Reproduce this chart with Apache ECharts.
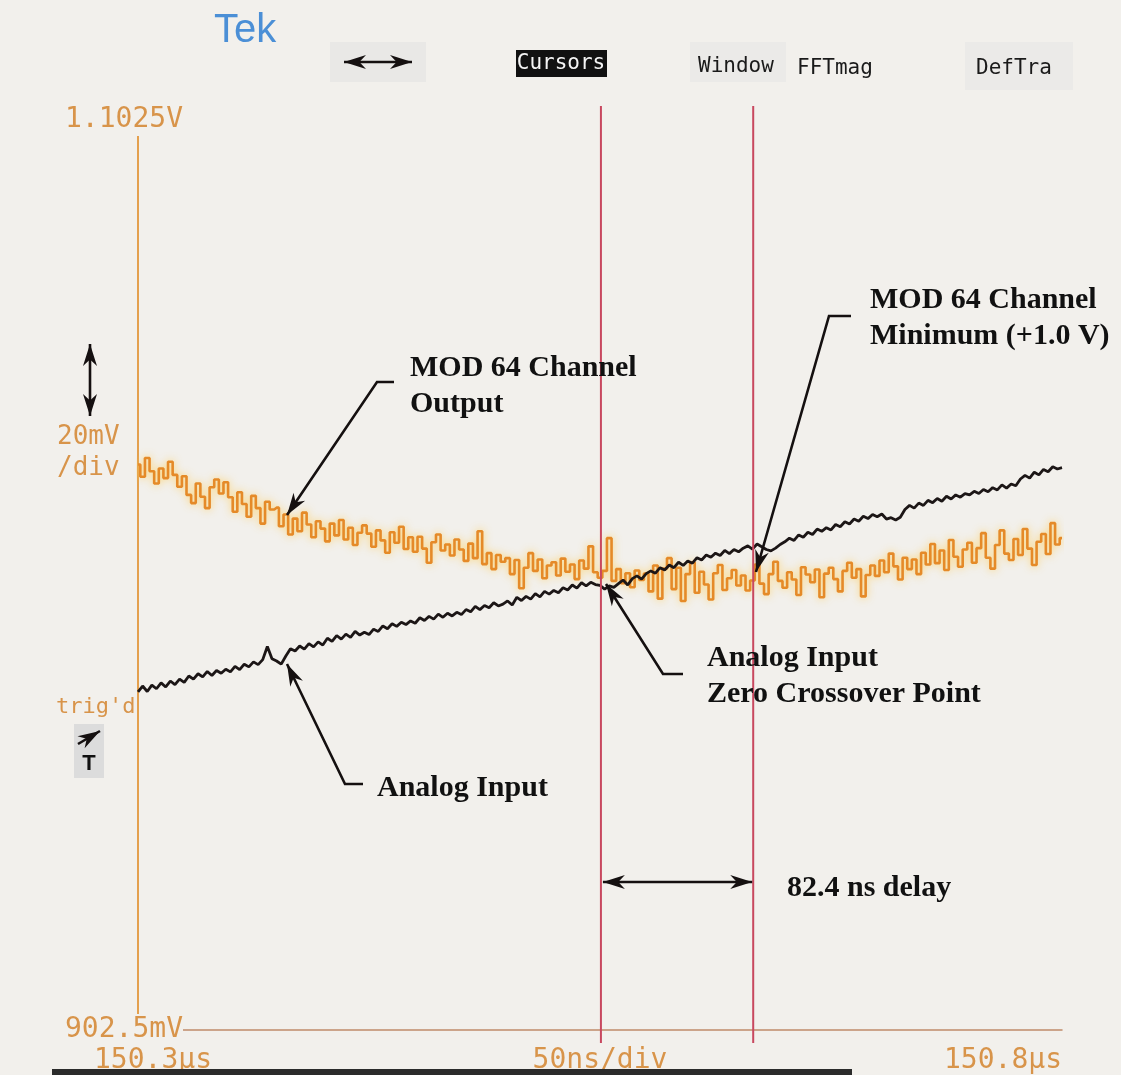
<!DOCTYPE html>
<html>
<head>
<meta charset="utf-8">
<script src="https://cdn.jsdelivr.net/npm/echarts@6/dist/echarts.min.js"></script>
<style>
html,body{margin:0;padding:0;background:#f2f0ec;}
#chart{width:1121px;height:1075px;}
</style>
</head>
<body>
<div id="chart"></div>
<script>
// ---- data ----
const sampleStepNs = 2.5;            // 201 samples across 500 ns
const channelOutput_mV = [
1026.8,1024.1,1028.2,1025.3,1022.6,1025.9,1023.8,1027.4,1024.5,1021.9,
1024.2,1020.1,1018.3,1022.6,1019.7,1017.2,1021.8,1023.5,1020.4,1022.9,
1019.6,1016.4,1020.7,1018.1,1015.3,1019.9,1017.2,1013.8,1018.6,1016.9,
1017.3,1013.2,1015.8,1011.4,1014.9,1012.1,1016.2,1013.6,1010.8,1014.3,
1012.7,1009.9,1013.8,1011.2,1014.6,1010.3,1012.9,1009.1,1011.8,1013.4,
1011.6,1008.7,1012.3,1010.1,1007.4,1011.9,1009.6,1013.1,1008.2,1010.8,
1007.6,1010.9,1008.3,1005.2,1009.7,1011.4,1007.9,1009.2,1006.8,1010.3,
1008.1,1005.6,1009.4,1006.2,1012.1,1004.9,1007.3,1003.8,1006.9,1005.4,
1006.2,1002.7,1005.8,999.6,1004.1,1007.3,1003.4,1005.9,1001.8,1004.6,
1005.3,1002.4,1006.1,1003.2,1004.8,1001.6,1005.7,1003.9,1008.8,1003.1,
1001.9,1003.4,1010.6,1001.2,1003.8,1000.7,1002.9,999.8,1003.5,1001.4,
1002.8,998.9,1004.6,997.3,1003.9,1006.2,999.4,1004.1,996.8,1002.7,
1005.3,998.6,1003.2,1000.4,997.1,1002.9,1004.7,999.2,1001.8,1003.6,
1000.2,1002.4,999.1,1001.3,1004.8,1000.6,998.3,1002.7,1005.4,1001.2,
999.7,1003.1,1001.5,998.1,1004.2,1002.6,1000.9,1003.7,997.6,1002.8,
1004.1,1001.6,998.9,1003.4,1005.2,1001.9,1003.8,997.8,1002.5,1004.6,
1002.3,1005.7,1003.1,1007.2,1004.4,1001.5,1006.3,1003.8,1005.9,1002.7,
1007.4,1004.8,1009.3,1005.1,1007.9,1003.6,1010.2,1006.5,1004.3,1008.1,
1009.6,1005.2,1008.4,1011.7,1006.3,1003.9,1009.1,1012.3,1007.2,1005.8,
1010.4,1006.9,1012.6,1008.3,1004.7,1009.8,1011.5,1007.1,1013.9,1009.2,1010.6
];
const analogInput_mV = [
976.8,978.1,976.9,978.3,977.5,978.8,977.9,979.2,978.4,979.6,
978.9,980.3,979.6,980.8,980.1,981.3,980.4,981.5,980.9,981.8,
981.2,982.4,981.7,982.9,982.3,983.4,982.8,983.9,986.8,984.1,
983.6,982.9,984.7,986.3,985.8,986.9,986.2,987.4,986.7,987.8,
987.1,988.6,987.9,989.2,988.4,989.5,988.8,990.1,989.3,989.9,
989.4,990.6,990.1,991.3,990.7,991.8,991.2,992.1,991.6,992.4,
991.9,993.1,992.5,993.4,992.8,993.9,993.2,994.1,993.5,994.3,
993.8,994.9,994.4,995.6,994.9,995.8,995.3,996.4,995.7,996.1,
996.8,995.9,997.6,996.9,997.8,997.2,998.4,997.7,998.9,998.3,
999.1,998.6,999.7,999.2,1000.3,999.6,1000.8,1000.1,1000.9,1000.4,
1000.2,999.4,1000.1,999.8,1000.6,1001.4,1000.3,1001.7,1002.3,1001.6,
1002.8,1003.4,1002.9,1004.1,1003.6,1004.7,1004.1,1005.3,1004.6,1005.6,
1005.1,1006.3,1005.8,1006.9,1006.4,1007.3,1006.8,1007.9,1007.2,1008.1,
1007.6,1008.4,1008.9,1008.2,1009.3,1008.7,1008.1,1007.8,1008.4,1009.2,
1009.8,1010.6,1010.1,1011.3,1010.8,1011.9,1011.4,1012.6,1012.1,1012.9,
1012.4,1013.6,1013.1,1014.2,1013.7,1014.8,1014.3,1015.4,1014.9,1015.8,
1015.3,1015.9,1014.8,1015.1,1014.6,1015.2,1016.9,1017.8,1017.2,1018.3,
1017.8,1018.9,1018.4,1019.3,1018.7,1019.8,1019.2,1020.1,1019.6,1020.4,
1020.1,1020.9,1020.4,1021.3,1020.8,1021.7,1021.2,1022.3,1021.6,1022.5,
1022.1,1023.6,1024.4,1023.8,1025.1,1024.5,1025.7,1025.2,1026.3,1025.8,1026.1
];
const cursorTimes_ns = [250.5, 332.9];
const xTickValues = [0, 250, 500];
const xTickLabels = ['150.3\u00b5s', '50ns/div', '150.8\u00b5s'];
const yTickValues = [902.5, 1102.5];
const yTickLabels = ['902.5mV', '1.1025V'];
const menuLabels = ['Window', 'FFTmag', 'DefTra'];

// ---- build ----
const outPts = channelOutput_mV.map((v, i) => [i * sampleStepNs, v]);
const inPts = analogInput_mV.map((v, i) => [i * sampleStepNs, v]);

const SCOPE = '#d8944a';
const MONO = '"DejaVu Sans Mono", "Liberation Mono", monospace';
const SERIF = '"Liberation Serif", "DejaVu Serif", serif';

const chart = echarts.init(document.getElementById('chart'), null, {renderer: 'canvas'});
chart.setOption({
  backgroundColor: '#f2f0ec',
  animation: false,
  grid: {left: 138, right: 59, top: 120, bottom: 45},
  xAxis: {
    type: 'value', min: 0, max: 500, interval: 250,
    axisLine: {show: true, lineStyle: {color: '#c08a6a', width: 1.5}},
    axisTick: {show: false},
    splitLine: {show: false},
    axisLabel: {
      show: true, margin: 17, color: SCOPE, fontFamily: MONO, fontSize: 28,
      alignMaxLabel: 'right',
      formatter: v => {
        const k = xTickValues.indexOf(v);
        if (k === 0) return '{a|' + xTickLabels[0] + '}';
        return k >= 0 ? xTickLabels[k] : '';
      },
      rich: {a: {color: SCOPE, fontFamily: MONO, fontSize: 28, padding: [0, 0, 0, 30]}}
    }
  },
  yAxis: {
    type: 'value', min: 902.5, max: 1102.5,
    axisLine: {show: true, lineStyle: {color: '#e4a04e', width: 2}},
    axisTick: {show: false},
    splitLine: {show: false},
    axisLabel: {
      show: true, customValues: yTickValues, margin: -45, align: 'right',
      color: SCOPE, fontFamily: MONO, fontSize: 28,
      backgroundColor: '#f2f0ec', padding: [2, 0, 2, 0],
      formatter: v => {
        const k = yTickValues.indexOf(v);
        return k >= 0 ? yTickLabels[k] : '';
      }
    }
  },
  series: [
    {
      name: 'MOD 64 Channel Output', type: 'line', data: outPts, step: 'middle',
      showSymbol: false, clip: false,
      lineStyle: {color: '#e58a28', width: 2.6, shadowColor: 'rgba(255,200,70,0.8)', shadowBlur: 8}
    },
    {
      name: 'Analog Input', type: 'line', data: inPts,
      showSymbol: false, clip: false,
      lineStyle: {color: '#1c1616', width: 2.8}
    }
  ]
});

// ---- annotations ----
function head(tip, from, L, W) {
  const dx = tip[0] - from[0], dy = tip[1] - from[1];
  const d = Math.hypot(dx, dy), ux = dx / d, uy = dy / d, nx = -uy, ny = ux;
  const bx = tip[0] - ux * L, by = tip[1] - uy * L;
  return {
    type: 'polygon', z: 100,
    shape: {points: [tip, [bx + nx * W / 2, by + ny * W / 2], [tip[0] - ux * L * 0.7, tip[1] - uy * L * 0.7], [bx - nx * W / 2, by - ny * W / 2]]},
    style: {fill: '#151010'}
  };
}
function arrow(points, both) {
  const g = [{type: 'polyline', z: 100, shape: {points: points}, style: {stroke: '#151010', lineWidth: 2.6, fill: null}}];
  const n = points.length;
  g.push(head(points[n - 1], points[n - 2], 22, 14));
  if (both) g.push(head(points[0], points[1], 22, 14));
  return g;
}
function txt(x, y, s, font, fill, align, lh) {
  return {type: 'text', z: 110, style: {x: x, y: y, text: s, font: font, fill: fill,
    align: align || 'left', textAlign: align || 'left', verticalAlign: 'middle', textVerticalAlign: 'middle', lineHeight: lh || 36}};
}

const c1 = chart.convertToPixel({xAxisIndex: 0}, cursorTimes_ns[0]);
const c2 = chart.convertToPixel({xAxisIndex: 0}, cursorTimes_ns[1]);
const delay = (cursorTimes_ns[1] - cursorTimes_ns[0]).toFixed(1);
const ANN = 'bold 30px ' + SERIF;

let g = [];
// cursors
[c1, c2].forEach(x => g.push({type: 'line', z: 50, shape: {x1: x, y1: 106, x2: x, y2: 1043}, style: {stroke: '#c8485f', lineWidth: 2}}));
// header
g.push({type: 'rect', z: 5, shape: {x: 330, y: 42, width: 96, height: 40}, style: {fill: '#e9e8e6'}});
g.push({type: 'rect', z: 5, shape: {x: 690, y: 42, width: 96, height: 40}, style: {fill: '#ebeae8'}});
g.push({type: 'rect', z: 5, shape: {x: 965, y: 42, width: 108, height: 48}, style: {fill: '#ebeae8'}});
g.push(txt(214, 31, 'Tek', '40px "Liberation Sans", Arial, sans-serif', '#4b8fd6'));
g = g.concat(arrow([[378, 62], [344, 62]], false));
g = g.concat(arrow([[378, 62], [412, 62]], false));
g.push({type: 'rect', z: 20, shape: {x: 516, y: 50, width: 91, height: 27}, style: {fill: '#111'}});
g.push(txt(561, 64, 'Cursors', '21px ' + MONO, '#f4f4f4', 'center'));
g.push(txt(698, 67, menuLabels[0], '21px ' + MONO, '#1a1a1a'));
g.push(txt(797, 69, menuLabels[1], '21px ' + MONO, '#1a1a1a'));
g.push(txt(976, 69, menuLabels[2], '21px ' + MONO, '#1a1a1a'));
// left side indicators
g = g.concat(arrow([[90, 380], [90, 344]], false));
g = g.concat(arrow([[90, 380], [90, 416]], false));
g.push(txt(57, 437, '20mV', '26px ' + MONO, SCOPE));
g.push(txt(57, 468, '/div', '26px ' + MONO, SCOPE));
g.push(txt(56, 707, "trig'd", '22px ' + MONO, SCOPE));
g.push({type: 'rect', z: 5, shape: {x: 74, y: 724, width: 30, height: 54}, style: {fill: '#dcdcdc'}});
g = g.concat(arrow([[78, 744], [100, 731]], false));
g.push(txt(89, 764, 'T', 'bold 22px "Liberation Sans", sans-serif', '#111', 'center'));
// callouts
g.push(txt(410, 386, 'MOD 64 Channel\nOutput', ANN, '#111'));
g = g.concat(arrow([[394, 382], [377, 382], [287, 515]]));
g.push(txt(870, 318, 'MOD 64 Channel\nMinimum (+1.0 V)', ANN, '#111'));
g = g.concat(arrow([[851, 316], [829, 316], [756, 572]]));
g.push(txt(707, 676, 'Analog Input\nZero Crossover Point', ANN, '#111'));
g = g.concat(arrow([[683, 674], [663, 674], [606, 584]]));
g.push(txt(377, 788, 'Analog Input', ANN, '#111'));
g = g.concat(arrow([[363, 784], [345, 784], [287, 664]]));
// delay
g = g.concat(arrow([[c1 + 2, 882], [c2 - 1, 882]], true));
g.push(txt(787, 888, delay + ' ns delay', ANN, '#111'));
// bottom bar
g.push({type: 'rect', z: 5, shape: {x: 52, y: 1069, width: 800, height: 6}, style: {fill: '#2b2b2b'}});

chart.setOption({graphic: g});
</script>
</body>
</html>
